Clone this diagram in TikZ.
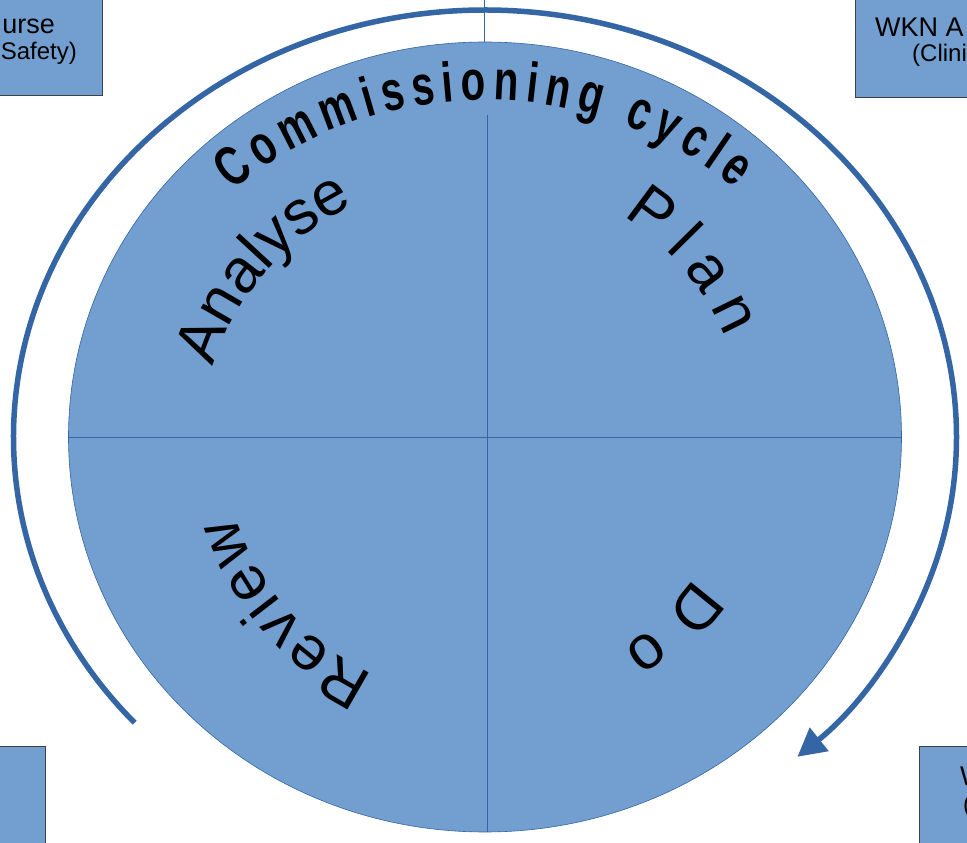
\documentclass[tikz,border=0pt]{standalone}
\usepackage{fontspec}
\setmainfont{Liberation Sans}
\newfontfamily\cyclefont[FakeStretch=0.72]{Liberation Sans Bold}
\usetikzlibrary{decorations.text,arrows.meta}
\tikzset{>=latex}
\definecolor{cyclefill}{HTML}{729FCF}
\definecolor{cycleline}{HTML}{3465A4}
\newcommand\stagesize{\fontsize{62}{66}\selectfont}

\begin{document}
\begin{tikzpicture}[x=1pt,y=1pt]
      \tikzstyle{corner}=[draw=black!75,line width=0.8pt,fill=cyclefill]
      \tikzstyle{boxtext}=[inner sep=0pt]
      \tikzstyle{stage}=[decorate,decoration={text along path,text align={fit to path}}]
      \useasboundingbox (-485,-406) rectangle (482,437);
      %%% corner boxes, cut by the page edge
      \begin{scope}
      \clip (-485,-406) rectangle (482,437);
      \draw[corner] (-560,460) rectangle (-383,342);
      \node (nurse1) [boxtext,anchor=base east,font=\fontsize{27}{30}\selectfont] at (-430,403) {urse};
      \node (nurse2) [boxtext,anchor=base east,font=\fontsize{24}{28}\selectfont] at (-408,377) {Safety)};
      \draw[corner] (370,460) rectangle (560,340);
      \node (wkn1) [boxtext,anchor=base west,font=\fontsize{27}{30}\selectfont] at (390,400) {WKN A};
      \node (wkn2) [boxtext,anchor=base west,font=\fontsize{24}{28}\selectfont] at (427,375) {(Clini};
      \draw[corner] (-560,-309) rectangle (-440,-430);
      \draw[corner] (434,-309) rectangle (560,-430);
      \node (wb1) [boxtext,anchor=base west,font=\fontsize{27}{30}\selectfont] at (475,-348) {W};
      \node (wb2) [boxtext,anchor=base west,font=\fontsize{24}{28}\selectfont] at (478,-375) {(};
      \end{scope}
      %%% outer arrow
      \draw[cycleline,line width=5.5pt,-{Triangle[length=28pt,width=29pt]}] (222:471.5pt and 427pt) arc[start angle=222,end angle=-48.5,x radius=471.5pt,y radius=427pt];
      \draw[cycleline,line width=0.7pt] (-1,437) -- (-1,395);
      %%% disc
      \draw[cycleline,fill=cyclefill,line width=0.6pt] (0,0) ellipse[x radius=416.5pt,y radius=395pt];
      \draw[cycleline,line width=0.8pt] (-416.5,0) -- (416.5,0);
      \draw[cycleline,line width=0.7pt] (2,322) -- (2,-395);
      %%% title
      \path[decorate,decoration={text along path,text align={fit to path},text={|\cyclefont\fontsize{56}{60}\selectfont|Commissioning cycle}}] (133:370pt and 337pt) arc[start angle=133,end angle=47.5,x radius=370pt,y radius=337pt];
      %%% stages
      \path[stage,decoration={text={|\stagesize|Analyse}}] (164.5:282pt and 262pt) arc[start angle=164.5,end angle=119,x radius=282pt,y radius=262pt];
      \path[stage,decoration={text={|\stagesize|Plan}}] (58:260pt) arc[start angle=58,end angle=22.5,radius=260pt];
      \path[stage,decoration={text={|\stagesize|Do}}] (-34:252pt) arc[start angle=-34,end angle=-57,radius=252pt];
      \path[stage,decoration={text={|\stagesize|Review}}] (-115:262pt) arc[start angle=-115,end angle=-162.5,radius=262pt];
\end{tikzpicture}
\end{document}
